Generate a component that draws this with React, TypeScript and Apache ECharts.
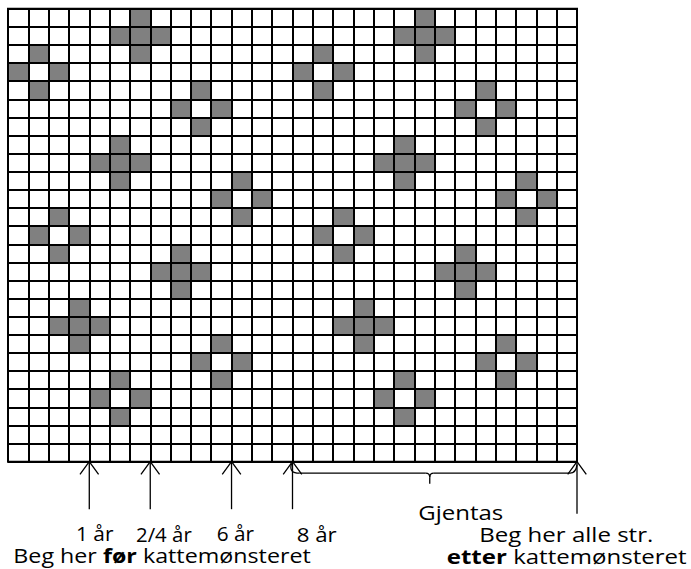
import { useEffect, useRef } from "react";
import * as echarts from "echarts";

// ---- data ----
const columnCount = 28;
const rowCount = 25;
// shaded (grey) columns for each chart row, top row first
const shadedColumnsByRow: number[][] = [
  [6, 20],
  [5, 6, 7, 19, 20, 21],
  [1, 6, 15, 20],
  [0, 2, 14, 16],
  [1, 9, 15, 23],
  [8, 10, 22, 24],
  [9, 23],
  [5, 19],
  [4, 5, 6, 18, 19, 20],
  [5, 11, 19, 25],
  [10, 12, 24, 26],
  [2, 11, 16, 25],
  [1, 3, 15, 17],
  [2, 8, 16, 22],
  [7, 8, 9, 21, 22, 23],
  [8, 22],
  [3, 17],
  [2, 3, 4, 16, 17, 18],
  [3, 10, 17, 24],
  [9, 11, 23, 25],
  [5, 10, 19, 24],
  [4, 6, 18, 20],
  [5, 19],
  [],
  [],
];
const arrowColumns = [4, 7, 11, 14, 28];
const repeatSpan = [14, 28];
const arrowLabels = ["1 år", "2/4 år", "6 år", "8 år", "Beg her alle str."];
const repeatLabel = "Gjentas";
const beforeLabelParts = ["Beg her ", "før", " kattemønsteret"];
const afterLabelParts = ["etter", " kattemønsteret"];

// ---- layout / style ----
const FONT = '"Open Sans", "DejaVu Sans", sans-serif';
const FS = 20;
const INK = "#000000";
const SHADE = "#808080";

function measure(parts: { t: string; bold?: boolean }[]) {
  const c = document.createElement("canvas").getContext("2d");
  if (!c) return 1;
  let w = 0;
  for (const p of parts) {
    c.font = `${p.bold ? "bold " : ""}${FS}px ${FONT}`;
    w += c.measureText(p.t).width;
  }
  return w;
}

export default function App() {
  const ref = useRef<HTMLDivElement>(null);
  useEffect(() => {
    if (!ref.current) return;
    const chart = echarts.init(ref.current, undefined, { renderer: "svg" });

    const cells: number[][] = [];
    shadedColumnsByRow.forEach((cols, r) => cols.forEach((c) => cells.push([c, r])));

    const textItems: any[] = [];
    const addText = (
      parts: { t: string; bold?: boolean }[],
      left: number,
      right: number,
      baseline: number
    ) => {
      const w = measure(parts);
      const sx = (right - left) / w;
      const text = parts.map((p) => (p.bold ? `{b|${p.t}}` : `{n|${p.t}}`)).join("");
      const tok = { fontFamily: FONT, fontSize: FS, fill: INK };
      textItems.push({
        type: "text",
        x: left,
        y: baseline - FS * 0.37,
        scaleX: sx,
        silent: true,
        style: {
          text,
          fill: INK,
          fontFamily: FONT,
          fontSize: FS,
          textAlign: "left",
          textVerticalAlign: "middle",
          rich: {
            n: { ...tok },
            b: { ...tok, fontWeight: "bold" },
          },
        },
      });
    };
    const labelBoxes = [
      [76, 113.5, 541],
      [136, 191.7, 541],
      [216.7, 254, 541],
      [296.7, 336.7, 541],
      [479.3, 653.3, 541.7],
    ];
    arrowLabels.forEach((t, i) => addText([{ t }], labelBoxes[i][0], labelBoxes[i][1], labelBoxes[i][2]));
    addText([{ t: repeatLabel }], 418.3, 503.3, 519);
    addText(
      [{ t: beforeLabelParts[0] }, { t: beforeLabelParts[1], bold: true }, { t: beforeLabelParts[2] }],
      13.3,
      310.7,
      563
    );
    addText([{ t: afterLabelParts[0], bold: true }, { t: afterLabelParts[1] }], 446.7, 686.7, 563.3);

    const axisCommon = {
      type: "value" as const,
      interval: 1,
      z: 5,
      axisLabel: { show: false },
      axisTick: { show: false },
      axisLine: { show: false },
      splitLine: { show: true, lineStyle: { color: INK, width: 2 } },
    };

    chart.setOption({
      animation: false,
      backgroundColor: "#ffffff",
      grid: { left: 8, top: 8.7, width: 569, height: 453, show: true, borderColor: INK, borderWidth: 2, backgroundColor: "#ffffff" },
      xAxis: { ...axisCommon, min: 0, max: columnCount },
      yAxis: { ...axisCommon, min: 0, max: rowCount, inverse: true },
      graphic: textItems,
      series: [
        {
          type: "custom",
          name: "cells",
          silent: true,
          data: cells,
          renderItem: (_p: any, api: any) => {
            const c = api.value(0);
            const r = api.value(1);
            const p0 = api.coord([c, r]);
            const p1 = api.coord([c + 1, r + 1]);
            return {
              type: "rect",
              shape: {
                x: Math.min(p0[0], p1[0]),
                y: Math.min(p0[1], p1[1]),
                width: Math.abs(p1[0] - p0[0]),
                height: Math.abs(p1[1] - p0[1]),
              },
              style: { fill: SHADE, stroke: null },
            };
          },
        },
        {
          type: "custom",
          name: "arrows",
          silent: true,
          data: arrowColumns.map((c) => [c, rowCount]),
          renderItem: (p: any, api: any) => {
            const pt = api.coord([api.value(0), api.value(1)]);
            const x = pt[0];
            const y = pt[1];
            const len = p.dataIndex === arrowColumns.length - 1 ? 52 : 47.5;
            const st = { stroke: INK, lineWidth: 1.3, fill: "none" };
            return {
              type: "group",
              children: [
                { type: "line", shape: { x1: x, y1: y, x2: x, y2: y + len }, style: st },
                {
                  type: "polyline",
                  shape: { points: [[x - 9.3, y + 12.7], [x, y], [x + 9.3, y + 12.7]] },
                  style: st,
                },
              ],
            };
          },
        },
        {
          type: "custom",
          name: "repeat",
          silent: true,
          data: [[repeatSpan[0], repeatSpan[1], rowCount]],
          renderItem: (_p: any, api: any) => {
            const a = api.coord([api.value(0), api.value(2)]);
            const b = api.coord([api.value(1), api.value(2)]);
            const x0 = a[0];
            const x1 = b[0];
            const yt = a[1];
            const y = yt + 11.5;
            const xm = (x0 + x1) / 2 - 5;
            const st = { stroke: INK, lineWidth: 1.3, fill: "none" };
            return {
              type: "group",
              children: [
                { type: "bezierCurve", shape: { x1: x0 - 1, y1: yt + 2, cpx1: x0 - 4, cpy1: y, x2: x0 + 7, y2: y }, style: st },
                { type: "line", shape: { x1: x0 + 7, y1: y, x2: xm - 4, y2: y }, style: st },
                { type: "bezierCurve", shape: { x1: xm - 4, y1: y, cpx1: xm, cpy1: y, x2: xm, y2: y + 4 }, style: st },
                { type: "line", shape: { x1: xm, y1: y + 4, x2: xm, y2: y + 10.5 }, style: st },
                { type: "bezierCurve", shape: { x1: xm, y1: y + 4, cpx1: xm, cpy1: y, x2: xm + 4, y2: y }, style: st },
                { type: "line", shape: { x1: xm + 4, y1: y, x2: x1 - 7, y2: y }, style: st },
                { type: "bezierCurve", shape: { x1: x1 - 7, y1: y, cpx1: x1 - 1, cpy1: y, x2: x1, y2: yt + 3 }, style: st },
              ],
            };
          },
        },
      ],
    });
    return () => chart.dispose();
  }, []);
  return (
    <div
      ref={ref}
      style={{ position: "absolute", left: 0, top: 0, width: 691, height: 569, background: "#ffffff" }}
    />
  );
}
